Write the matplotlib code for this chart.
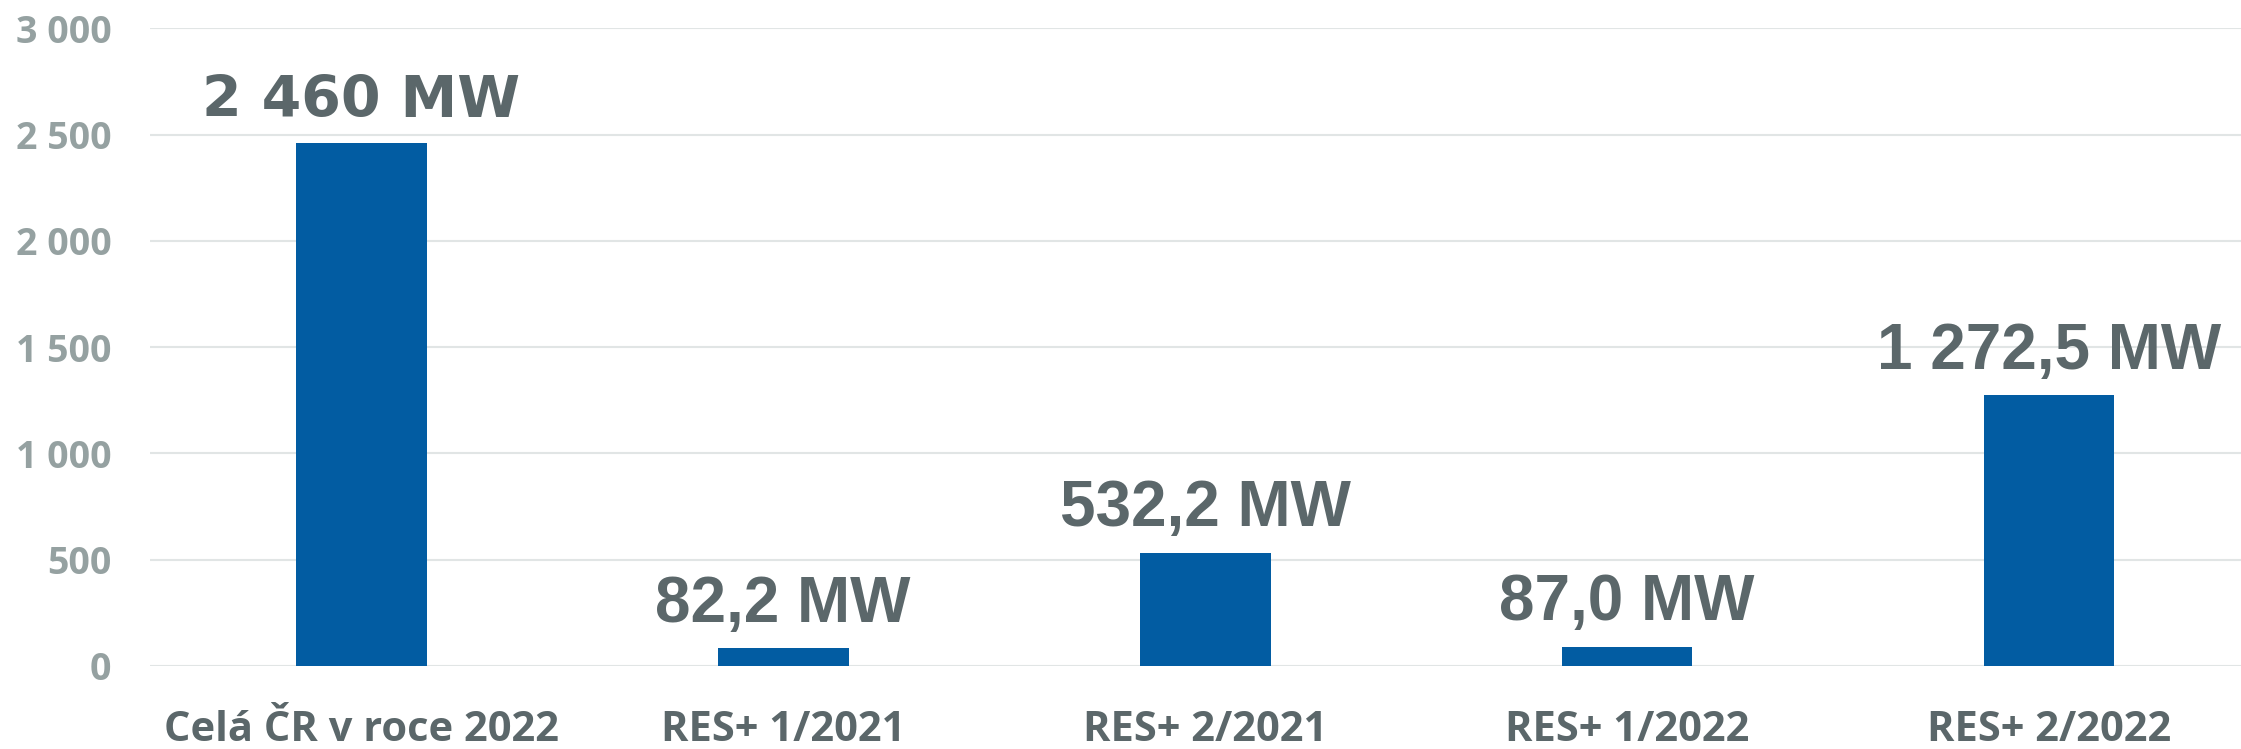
import numpy as np
import matplotlib.pyplot as plt

categories = ['Celá ČR v roce 2022', 'RES+ 1/2021', 'RES+ 2/2021', 'RES+ 1/2022', 'RES+ 2/2022']
values = [2460, 82.2, 532.2, 87.0, 1272.5]
labels = ['2 460 MW', '82,2 MW', '532,2 MW', '87,0 MW', '1 272,5 MW']
yticks = [0, 500, 1000, 1500, 2000, 2500, 3000]
ytick_labels = ['0', '500', '1 000', '1 500', '2 000', '2 500', '3 000']

bar_color = '#025ca2'
text_dark = '#5b676a'
text_grey = '#95a1a1'

fig = plt.figure(figsize=(22.41, 7.49), dpi=100)
ax = fig.add_axes([0.067, 0.111, 0.9415, 0.851])

x = np.arange(len(categories))
bars = ax.bar(x, values, width=0.31, color=bar_color, zorder=3)

for i, (rect, lab) in enumerate(zip(bars, labels)):
    # first label in the source uses a different (Verdana-like) face
    if i == 0:
        fam, fs = 'DejaVu Sans', 41
    else:
        fam, fs = 'Liberation Sans', 46
    ax.annotate(lab, (rect.get_x() + rect.get_width() / 2, rect.get_height()),
                xytext=(0, 10), textcoords='offset points', ha='center', va='bottom',
                fontsize=fs, fontweight='bold', color=text_dark, family=fam)

ax.set_xlim(-0.5, 4.5)
ax.set_ylim(0, 3000)
ax.set_yticks(yticks)
ax.set_yticklabels(ytick_labels, fontsize=27, fontweight='bold', color=text_grey, family='Open Sans')
ax.set_xticks(x)
ax.set_xticklabels(categories, fontsize=30, fontweight='bold', color=text_dark, family='Open Sans')
ax.tick_params(axis='y', length=0, pad=28)
ax.tick_params(axis='x', length=0, pad=32)
ax.grid(axis='y', color='#e1e5e5', linewidth=1.5, zorder=0)
for s in ax.spines.values():
    s.set_visible(False)

fig.savefig('out.png', dpi=100)
